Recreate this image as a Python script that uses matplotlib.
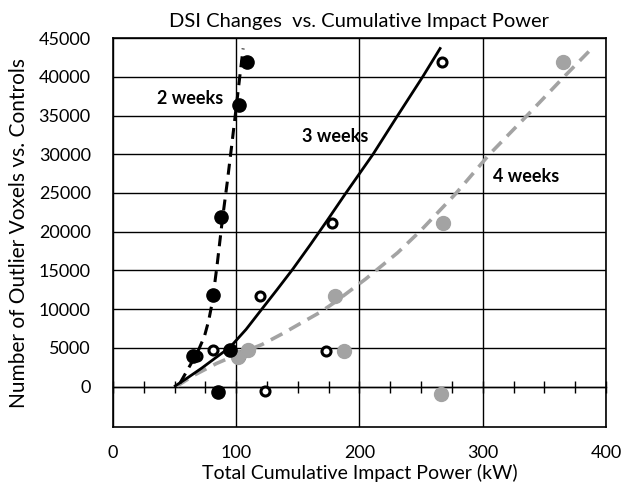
import numpy as np
import matplotlib
matplotlib.use("Agg")
from matplotlib import pyplot as plt

# measured points (x = cumulative impact power kW, y = outlier voxels)
x2 = [65, 81.5, 87.5, 102.5, 109, 95, 85.5]
y2 = [3900, 11800, 21900, 36400, 41900, 4800, -700]

x3 = [68.4, 81.4, 119.3, 123.4, 172.6, 178, 266.8, 103]
y3 = [3900, 4770, 11730, -600, 4640, 21170, 41920, 3900]

x4 = [101.7, 109.8, 180.2, 187.8, 266.2, 268.1, 365.5]
y4 = [3830, 4770, 11730, 4550, -900, 21170, 41920]

# trend lines
x2_fit = [54.4, 59.5, 64.5, 69.3, 74.2, 77.6, 80.7, 84.7, 88.7, 92.8, 96.6, 100.3, 103.6, 105.6]
y2_fit = [470, 1900, 3300, 4700, 6500, 8500, 11000, 16000, 21500, 26500, 31500, 36500, 41000, 43650]

x3_fit = [50.5, 61, 72, 83, 95, 108, 120.7, 133, 146, 160, 174, 189, 211, 231, 251.3, 265.4]
y3_fit = [100, 1200, 2400, 3700, 5100, 7400, 10000, 12500, 15200, 18300, 21500, 25000, 30000, 35000, 40000, 43650]

x4_fit = [52, 66, 84, 103, 121, 137, 153, 168, 180, 205, 231, 250, 278, 305.5, 336, 366, 388.5]
y4_fit = [100, 1500, 3000, 4300, 5450, 6800, 8250, 9600, 10900, 13900, 17300, 20200, 24900, 30000, 35000, 40000, 43650]

gray = "#a3a3a3"
plt.rcParams["font.family"] = ["Lato", "DejaVu Sans"]

fig = plt.figure(figsize=(6.33, 4.88), dpi=100)
ax = fig.add_axes([0.1785, 0.125, 0.7788, 0.7971])

ymin, ymax = -5200, 45000
ax.set_xlim(0, 400)
ax.set_ylim(ymin, ymax)
ax.set_xticks(np.arange(0, 401, 100))
ax.set_yticks(np.arange(0, 45001, 5000))
ax.grid(True, color="black", linewidth=1.0)
ax.set_axisbelow(True)
for s in ax.spines.values():
    s.set_linewidth(1.2)
ax.tick_params(axis="both", length=0, labelsize=13)
ax.tick_params(axis="x", pad=13)
ax.tick_params(axis="y", pad=16)

# axis line at y = 0 with small ticks every 25 kW
sec = ax.secondary_xaxis((0 - ymin) / (ymax - ymin))
sec.set_xticks(np.arange(0, 401, 25))
sec.tick_params(direction="inout", length=8, width=1, labelbottom=False)
sec.spines["bottom"].set_linewidth(1.0)

# trend lines
ax.plot(x4_fit, y4_fit, color=gray, lw=2.6, dashes=(3.6, 2.2), zorder=3)
ax.plot(x3_fit, y3_fit, color="black", lw=2.0, zorder=3)
ax.plot(x2_fit, y2_fit, color="black", lw=2.2, dashes=(3.6, 2.3), zorder=3)

# data points
ax.plot(x3, y3, "o", ms=6.5, mfc="white", mec="black", mew=2.2, zorder=4)
ax.plot(x4, y4, "o", ms=10, color=gray, zorder=5)
ax.plot(x2, y2, "o", ms=9.5, color="black", zorder=5)

ax.text(35.7, 37200, "2 weeks", fontsize=13, fontweight="bold", va="center", zorder=6)
ax.text(153, 32250, "3 weeks", fontsize=13, fontweight="bold", va="center", zorder=6)
ax.text(308.4, 27100, "4 weeks", fontsize=13, fontweight="bold", va="center", zorder=6)

ax.set_title("DSI Changes  vs. Cumulative Impact Power", fontsize=14.5, pad=8)
ax.set_xlabel("Total Cumulative Impact Power (kW)", fontsize=14, labelpad=2)
ax.set_ylabel("Number of Outlier Voxels vs. Controls", fontsize=15, labelpad=7)

fig.savefig("out.png", dpi=100)
